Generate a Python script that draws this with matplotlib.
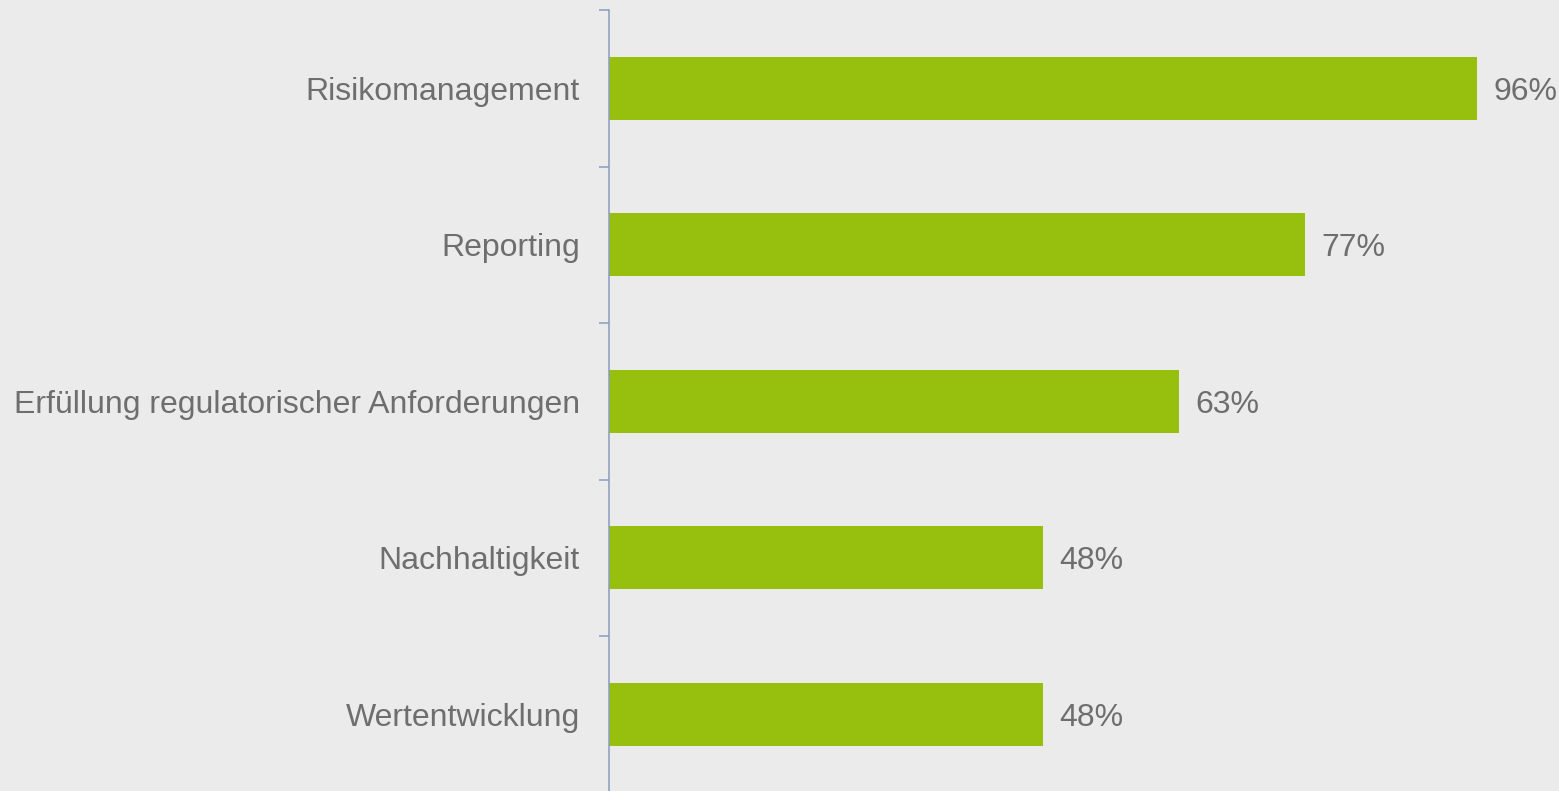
"""Horizontal bar chart of survey shares."""
import matplotlib.pyplot as plt
from matplotlib.ticker import FixedLocator

categories = [
    "Risikomanagement",
    "Reporting",
    "Erfüllung regulatorischer Anforderungen",
    "Nachhaltigkeit",
    "Wertentwicklung",
]
values = [96, 77, 63, 48, 48]

BG = "#ebebeb"
BAR = "#97c00e"
AXIS = "#8a9bbb"
TEXT = "#6e6e6e"

plt.rcParams["font.family"] = ["Liberation Sans", "DejaVu Sans"]

fig = plt.figure(figsize=(15.59, 7.91), dpi=100, facecolor=BG)
ax = fig.add_axes([609 / 1559, -1.5 / 791, 904 / 1559, 782.5 / 791])
ax.set_facecolor(BG)

pos = list(range(len(categories)))
ax.barh(pos, values, height=0.4, color=BAR, edgecolor="none")
for p, v in zip(pos, values):
    ax.annotate(f"{v}%", (v, p), xytext=(12, 0), textcoords="offset points",
                ha="left", va="center_baseline", fontsize=23, color=TEXT)

ax.set_xlim(0, 100)
ax.set_ylim(len(categories) - 0.5, -0.5)

ax.set_yticks(pos)
ax.set_yticklabels(categories, fontsize=23, color=TEXT)
ax.tick_params(axis="y", which="major", length=0, pad=21)
ax.yaxis.set_minor_locator(FixedLocator([i - 0.5 for i in range(len(categories) + 1)]))
ax.tick_params(axis="y", which="minor", length=7.2, width=1.1, color=AXIS,
               direction="out")
ax.set_xticks([])

for side in ["top", "right", "bottom"]:
    ax.spines[side].set_visible(False)
ax.spines["left"].set_color(AXIS)
ax.spines["left"].set_linewidth(1.1)

fig.savefig("out.png", dpi=100, facecolor=BG)
